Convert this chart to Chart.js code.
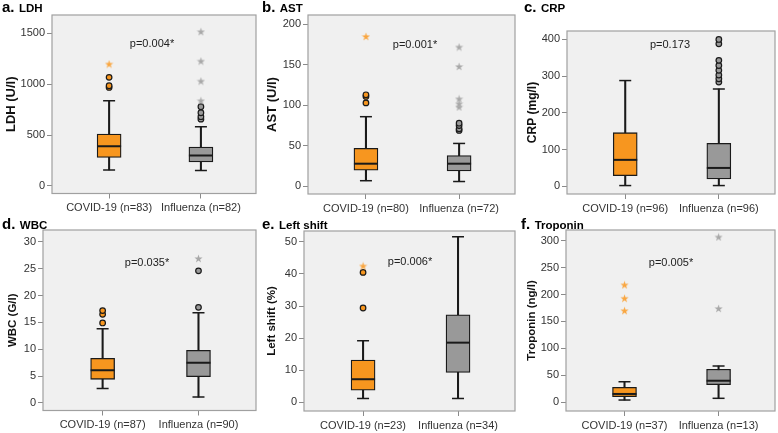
<!DOCTYPE html>
<html>
<head>
<meta charset="utf-8">
<script src="https://cdn.jsdelivr.net/npm/chart.js@4.4.1/dist/chart.umd.min.js"></script>
<style>
  body { margin: 0; background: #fff; }
  #page { position: relative; width: 778px; height: 433px; overflow: hidden; font-family: "Liberation Sans", Arial, sans-serif; }
  .cell { position: absolute; }
  .title { position: absolute; font-weight: bold; white-space: nowrap; color: #000; line-height: 15px; }
  .title .l { font-size: 15px; }
  .title .m { font-size: 11.5px; }
  .pval { position: absolute; font-size: 11px; color: #222; transform: translate(-50%, -50%); white-space: nowrap; }
</style>
</head>
<body>
<div id="page"></div>
<script>
const categories = ['COVID-19', 'Influenza'];
const letters = ['a.', 'b.', 'c.', 'd.', 'e.', 'f.'];
const markers = ['LDH', 'AST', 'CRP', 'WBC', 'Left shift', 'Troponin'];
const yTitles = ['LDH (U/l)', 'AST (U/l)', 'CRP (mg/l)', 'WBC (G/l)', 'Left shift (%)', 'Troponin (ng/l)'];
const nCounts = [[83, 82], [80, 72], [96, 96], [87, 90], [23, 34], [37, 13]];
const pValues = ['p=0.004*', 'p=0.001*', 'p=0.173', 'p=0.035*', 'p=0.006*', 'p=0.005*'];
const yTicks = [
  [0, 500, 1000, 1500],
  [0, 50, 100, 150, 200],
  [0, 100, 200, 300, 400],
  [0, 5, 10, 15, 20, 25, 30],
  [0, 10, 20, 30, 40, 50],
  [0, 50, 100, 150, 200, 250, 300]
];
const yMin = [-75, -9.4, -21, -1.4, -2.7, -16.7];
const yMax = [1680, 211.5, 423, 32.2, 53.4, 320];

// [lower whisker, Q1, median, Q3, upper whisker] for COVID-19, Influenza
const ldhBoxes = [[157, 279, 390, 509, 837], [151, 236, 299, 381, 581]];
const ldhOutliers = [[968, 985, 1067], [656, 680, 719, 778]];
const ldhExtremes = [[1198], [837, 1030, 1227, 1516]];

const astBoxes = [[7, 20, 28, 47, 86], [6, 19, 28, 38, 53]];
const astOutliers = [[103, 111, 113], [69, 71, 75, 78]];
const astExtremes = [[185], [98, 102, 108, 148, 172]];

const crpBoxes = [[2, 29, 72, 146, 288], [2, 20, 50, 117, 265]];
const crpOutliers = [[], [284, 293, 303, 316, 329, 343, 388, 400]];
const crpExtremes = [[], []];

const wbcBoxes = [[2.7, 4.4, 6.1, 8.3, 13.8], [1.1, 4.9, 7.5, 9.8, 16.8]];
const wbcOutliers = [[14.9, 16.5, 17.2], [17.8, 24.6]];
const wbcExtremes = [[], [26.9]];

const shiftBoxes = [[1.2, 3.8, 7.2, 13.2, 19.2], [1.2, 9.3, 18.6, 27.3, 51.6]];
const shiftOutliers = [[29.4, 40.5], []];
const shiftExtremes = [[42.5], []];

const tropBoxes = [[3.7, 9.9, 15, 27.3, 37.7], [6.9, 32.2, 39.6, 61, 67]];
const tropOutliers = [[], []];
const tropExtremes = [[170, 193, 218], [174, 307]];

const boxes = [ldhBoxes, astBoxes, crpBoxes, wbcBoxes, shiftBoxes, tropBoxes];
const outliers = [ldhOutliers, astOutliers, crpOutliers, wbcOutliers, shiftOutliers, tropOutliers];
const extremes = [ldhExtremes, astExtremes, crpExtremes, wbcExtremes, shiftExtremes, tropExtremes];

// layout: cell = canvas box, plot = frame [left, top, right, bottom] in page px
const cells = [
  [0, 0, 258, 215], [258, 0, 260, 215], [518, 0, 260, 215],
  [0, 215, 258, 218], [258, 215, 260, 218], [518, 215, 260, 218]
];
const plots = [
  [52, 15, 256, 193.5], [308, 15, 515, 194], [567, 31, 775, 194],
  [43, 230, 256, 410.5], [304, 231, 515, 411], [566, 230, 775, 411]
];
const titlePos = [[2, -1], [262, -1], [524, -1], [2, 216], [262, 216], [521, 216]];
const pPos = [[152, 43], [415, 44], [670, 44], [147, 262], [410, 261], [671, 262]];
const yTitleSize = [13, 13, 12, 11.5, 11.5, 11.5];
const yTitlePad = [4, 7, 7, 6, 7, 7];

const boxFill = ['#f7961f', '#999999'];
const starFill = ['#f9a640', '#a8a8a8'];
const ink = '#1a1a1a';

function makeStar(color) {
  const c = document.createElement('canvas');
  c.width = 9; c.height = 9;
  const g = c.getContext('2d');
  g.fillStyle = color;
  g.beginPath();
  for (let k = 0; k < 10; k++) {
    const r = k % 2 ? 1.7 : 4.3;
    const a = -Math.PI / 2 + k * Math.PI / 5;
    g.lineTo(4.5 + r * Math.cos(a), 4.9 + r * Math.sin(a));
  }
  g.closePath();
  g.fill();
  return c;
}
const starImgs = starFill.map(makeStar);

const framePlugin = {
  id: 'frame',
  beforeDatasetsDraw(chart) {
    const a = chart.chartArea, ctx = chart.ctx;
    ctx.save();
    ctx.fillStyle = '#f0f0f0';
    ctx.fillRect(a.left, a.top, a.right - a.left, a.bottom - a.top);
    ctx.restore();
  },
  afterDatasetsDraw(chart) {
    const a = chart.chartArea, ctx = chart.ctx;
    ctx.save();
    ctx.strokeStyle = '#a0a0a0';
    ctx.lineWidth = 1.2;
    ctx.strokeRect(a.left, a.top, a.right - a.left, a.bottom - a.top);
    ctx.restore();
  }
};

const page = document.getElementById('page');

function points(groups) {
  return groups.flatMap((vals, i) => vals.map(v => ({x: i + 1, y: v})));
}

// which group a point belongs to (0 = COVID-19, 1 = Influenza)
const grp = ctx => (ctx.raw && ctx.raw.x === 2 ? 1 : 0);

function makePanel(i) {
  const [cx, cy, cw, ch] = cells[i];
  const [pl, pt, pr, pb] = plots[i];

  const div = document.createElement('div');
  div.className = 'cell';
  div.style.cssText = `left:${cx}px;top:${cy}px;width:${cw}px;height:${ch}px`;
  const canvas = document.createElement('canvas');
  div.appendChild(canvas);
  page.appendChild(div);

  const b = boxes[i];
  const datasets = [
    {
      type: 'bar', order: 6, grouped: false,
      data: b.map((v, k) => ({x: k + 1, y: [v[0], v[4]]})),
      backgroundColor: ink, barThickness: 1.4
    },
    {
      type: 'bar', order: 5, grouped: false,
      data: b.map((v, k) => ({x: k + 1, y: [v[1], v[3]]})),
      backgroundColor: boxFill, borderColor: ink, borderWidth: 1.3,
      borderSkipped: false, barThickness: 24
    },
    {
      type: 'line', order: 4, showLine: false,
      data: b.map((v, k) => ({x: k + 1, y: v[2]})),
      pointStyle: 'line', pointRadius: 12, pointHoverRadius: 12,
      pointBorderWidth: 2, pointBorderColor: ink
    },
    {
      type: 'line', order: 4, showLine: false,
      data: b.flatMap((v, k) => [{x: k + 1, y: v[0]}, {x: k + 1, y: v[4]}]),
      pointStyle: 'line', pointRadius: 6, pointHoverRadius: 6,
      pointBorderWidth: 1.5, pointBorderColor: ink
    },
    {
      type: 'line', order: 3, showLine: false,
      data: points(outliers[i]),
      pointStyle: 'circle', pointRadius: 2.8, pointHoverRadius: 2.8,
      pointBackgroundColor: ctx => boxFill[grp(ctx)],
      pointBorderColor: ink, pointBorderWidth: 1.2
    },
    {
      type: 'line', order: 2, showLine: false,
      data: points(extremes[i]),
      pointStyle: ctx => starImgs[grp(ctx)]
    }
  ];

  new Chart(canvas, {
    type: 'bar',
    data: {datasets},
    options: {
      responsive: true,
      maintainAspectRatio: false,
      animation: false,
      events: [],
      layout: {autoPadding: false, padding: {top: pt - cy, right: cx + cw - pr, left: 0, bottom: 0}},
      plugins: {legend: {display: false}, tooltip: {enabled: false}},
      scales: {
        x: {
          type: 'linear', min: 0.378, max: 2.6, offset: false,
          afterBuildTicks: s => { s.ticks = [{value: 1}, {value: 2}]; },
          afterFit: s => { s.height = cy + ch - pb; s.paddingLeft = 0; s.paddingRight = 0; },
          grid: {offset: false, drawOnChartArea: false, tickLength: 5, color: '#8a8a8a'},
          border: {display: false},
          ticks: {
            autoSkip: false, maxRotation: 0, padding: 3, color: '#333',
            font: {family: 'Liberation Sans, Arial', size: 11},
            callback: v => `${categories[v - 1]} (n=${nCounts[i][v - 1]})`
          }
        },
        y: {
          min: yMin[i], max: yMax[i],
          afterBuildTicks: s => { s.ticks = yTicks[i].map(v => ({value: v})); },
          afterFit: s => { s.width = pl - cx; s.paddingTop = 0; s.paddingBottom = 0; },
          grid: {drawOnChartArea: false, tickLength: 5, color: '#8a8a8a'},
          border: {display: false},
          ticks: {
            padding: 2, color: '#333', font: {family: 'Liberation Sans, Arial', size: 11},
            callback: v => String(v)
          },
          title: {
            display: true, text: yTitles[i], color: '#111',
            padding: {top: yTitlePad[i], bottom: 0},
            font: {family: 'Liberation Sans, Arial', size: yTitleSize[i], weight: 'bold'}
          }
        }
      }
    },
    plugins: [framePlugin]
  });

  const t = document.createElement('div');
  t.className = 'title';
  t.style.left = titlePos[i][0] + 'px';
  t.style.top = titlePos[i][1] + 'px';
  t.innerHTML = `<span class="l">${letters[i]}</span> <span class="m">${markers[i]}</span>`;
  page.appendChild(t);

  const p = document.createElement('div');
  p.className = 'pval';
  p.style.left = pPos[i][0] + 'px';
  p.style.top = pPos[i][1] + 'px';
  p.textContent = pValues[i];
  page.appendChild(p);
}

for (let i = 0; i < 6; i++) makePanel(i);
</script>
</body>
</html>
